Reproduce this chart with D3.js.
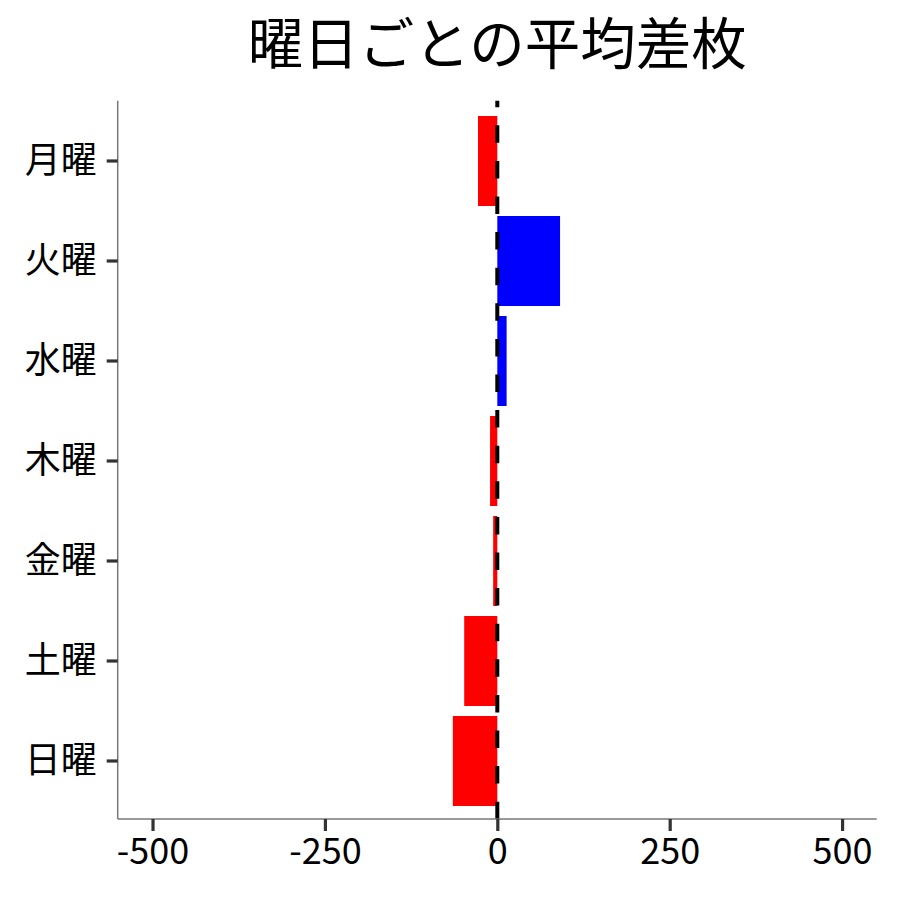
<!DOCTYPE html>
<html>
<head>
<meta charset="utf-8">
<script src="https://cdn.jsdelivr.net/npm/d3@7"></script>
<style>
  body { margin: 0; background: #fff; }
  svg text { font-family: "Noto Sans CJK JP", "Noto Sans", sans-serif; fill: #000; }
</style>
</head>
<body>
<svg id="chart" width="900" height="900"></svg>
<script>
// data
const days = ["月曜", "火曜", "水曜", "木曜", "金曜", "土曜", "日曜"]
const avgDiff = [-28, 91, 13.5, -10.5, -6, -48, -64.5]
const xTicks = [-500, -250, 0, 250, 500]
const title = "曜日ごとの平均差枚"

const svg = d3.select("#chart")
const plotLeft = 117.7, plotRight = 876.7, plotTop = 100.7, plotBottom = 819

const xRange = d3.scaleLinear()
    .domain([-550.5, 550.2])
    .range([plotLeft, plotRight])

const yRange = d3.scaleBand()
    .domain(days)
    .range([111, 811])
    .paddingInner(0.1)
    .paddingOuter(0.05)

const data = days.map((d, i) => ({day: d, value: avgDiff[i]}))

// bars
svg.append("g")
    .selectAll("rect")
    .data(data)
    .join("rect")
    .attr("x", d => xRange(Math.min(0, d.value)))
    .attr("width", d => Math.abs(xRange(d.value) - xRange(0)))
    .attr("y", d => yRange(d.day))
    .attr("height", yRange.bandwidth())
    .attr("fill", d => d.value < 0 ? "#ff0000" : "#0000ff")

// zero line
svg.append("line")
    .attr("x1", xRange(0)).attr("x2", xRange(0))
    .attr("y1", plotTop).attr("y2", plotBottom)
    .attr("stroke", "#000")
    .attr("stroke-width", 4)
    .attr("stroke-dasharray", "17.5 18.1")
    .attr("stroke-dashoffset", 11)

// axes (plain hyphen for negatives, like the original)
const xAxis = svg.append("g")
    .attr("transform", `translate(0, ${plotBottom})`)
    .call(d3.axisBottom(xRange).tickValues(xTicks).tickFormat(d => String(d)).tickSize(12).tickPadding(7).tickSizeOuter(0))

const yAxis = svg.append("g")
    .attr("transform", `translate(${plotLeft}, 0)`)
    .call(d3.axisLeft(yRange).tickSize(11).tickPadding(10).tickSizeOuter(0))

;[xAxis, yAxis].forEach(ax => {
    ax.select(".domain").attr("stroke", "#777").attr("stroke-width", 1.5)
    ax.selectAll(".tick line").attr("stroke", "#333").attr("stroke-width", 3.2)
    ax.selectAll(".tick text")
        .style("font-size", "36px")
        .attr("fill", "#000")
})
xAxis.select(".domain").attr("d", `M${plotLeft},0H${plotRight}`)
yAxis.select(".domain").attr("d", `M0,${plotTop}V${plotBottom}`)

// title
svg.append("text")
    .attr("x", (plotLeft + plotRight) / 2)
    .attr("y", 64)
    .attr("text-anchor", "middle")
    .style("font-size", "55.5px")
    .text(title)
</script>
</body>
</html>
